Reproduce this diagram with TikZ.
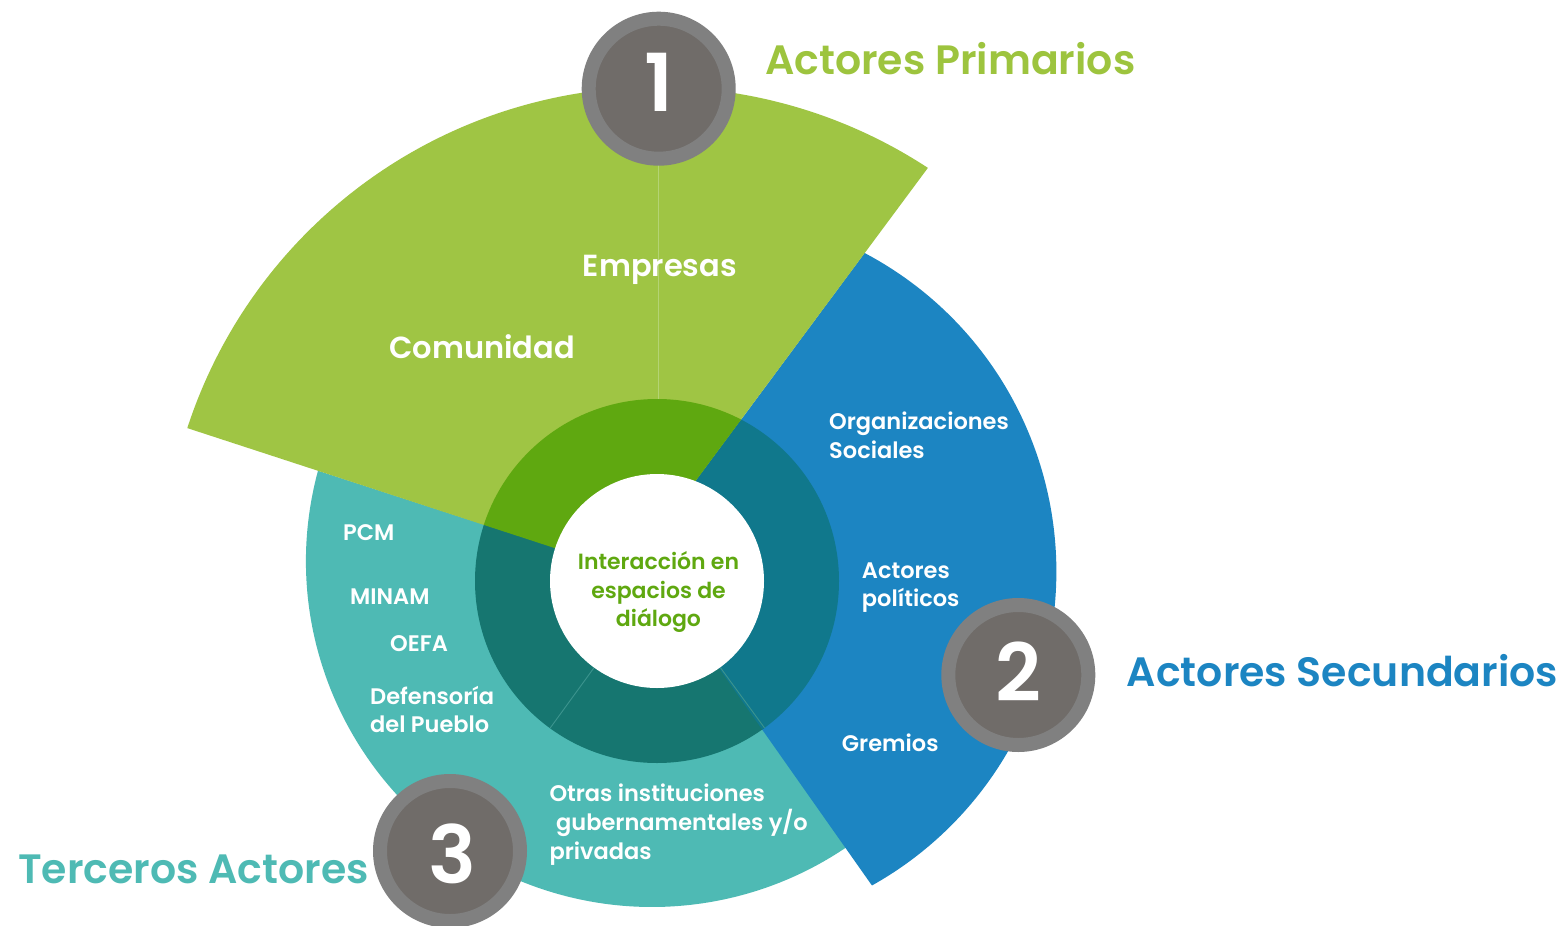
\documentclass[tikz,border=0pt]{standalone}
\usepackage{fontspec}
\setmainfont{Poppins}[BoldFont={Poppins SemiBold}]
\definecolor{gOut}{HTML}{9FC544}
\definecolor{gRing}{HTML}{5FA810}
\definecolor{gLine}{HTML}{B4D474}
\definecolor{bOut}{HTML}{1C85C2}
\definecolor{bRing}{HTML}{10788C}
\definecolor{tOut}{HTML}{4EBAB4}
\definecolor{tRing}{HTML}{167670}
\definecolor{tLine}{HTML}{3C948E}
\definecolor{cOuter}{HTML}{808080}
\definecolor{cInner}{HTML}{706C69}
\definecolor{gHead}{HTML}{9DC43E}
\newcommand\tealwedge{(658,581) -- (318,470.7) arc[start angle=195.13, end angle=54.96, radius=346] -- cycle}
\newcommand\bluewedge{(640,556) -- (864.6,253) arc[start angle=-62.13, end angle=60.8, radius=360] -- cycle}
\newcommand\greenwedge{(628,572) -- (187.3,428.1) arc[start angle=198.03, end angle=303.25, radius=494] -- cycle}
\begin{document}
\begin{tikzpicture}[x=1pt,y=-1pt,
  lbl/.style={text=white, anchor=base west, inner sep=0pt, font=\fontsize{22.5}{26}\selectfont\bfseries},
  biglbl/.style={text=white, anchor=base west, inner sep=0pt, font=\fontsize{30.5}{36}\selectfont\bfseries},
  head/.style={anchor=base west, inner sep=0pt, font=\fontsize{41}{48}\selectfont\bfseries},
  ctrtext/.style={text=gRing, anchor=base, inner sep=0pt, font=\fontsize{22}{26}\selectfont\bfseries},
  numc/.style={circle, fill=cInner, draw=cOuter, line width=14pt, minimum size=140pt, inner sep=0pt},
  numtext/.style={text=white, inner sep=0pt, font=\fontsize{80}{80}\selectfont\bfseries},
  faint/.style={line width=0.9pt}]
\useasboundingbox (0,0) rectangle (1564,926);
\fill[white] (0,0) rectangle (1564,926);
% outer wedges
\fill[tOut] \tealwedge;
\fill[bOut] \bluewedge;
\fill[gOut] \greenwedge;
\draw[gLine, faint] (658,165) -- (658,400);
% ring segments
\begin{scope}\clip \tealwedge; \fill[tRing] (657,581) circle (182); \end{scope}
\begin{scope}\clip \bluewedge; \fill[bRing] (657,581) circle (182); \end{scope}
\begin{scope}\clip \greenwedge; \fill[gRing] (657,581) circle (182); \end{scope}
\draw[tLine, faint] ([shift={(126:107)}]657,581) -- ([shift={(126:182)}]657,581);
\draw[tLine, faint] ([shift={(53.8:107)}]657,581) -- ([shift={(53.8:182)}]657,581);
\fill[white] (657,581) circle (107);
% centre text
\node[ctrtext] (c1) at (658.5,569) {Interacción en};
\node[ctrtext] (c2) at (658.5,598.3) {espacios de};
\node[ctrtext] (c3) at (658.5,626.7) {diálogo};
% labels
\node[biglbl] (comun) at (389,358.3) {Comunidad};
\node[biglbl] (empr) at (582.7,276) {Empresas};
\node[lbl] (org1) at (829,429.3) {Organizaciones};
\node[lbl] (org2) at (829,458.3) {Sociales};
\node[lbl] (act1) at (861.7,578.3) {Actores};
\node[lbl] (act2) at (861.7,606.7) {políticos};
\node[lbl] (grem) at (841.7,751.7) {Gremios};
\node[lbl] (otr1) at (549.3,801.7) {Otras instituciones};
\node[lbl] (otr2) at (556,830.7) {gubernamentales y/o};
\node[lbl] (otr3) at (549.3,859.3) {privadas};
\node[lbl] (pcm) at (343,540) {PCM};
\node[lbl] (minam) at (350,604) {MINAM};
\node[lbl] (oefa) at (390,651.7) {OEFA};
\node[lbl] (def1) at (370,704) {Defensoría};
\node[lbl] (def2) at (370,732.7) {del Pueblo};
% number circles
\node[numc] (n1) at (658.7,88.7) {};
\node[numtext] (t1) at (658.7,82) {1};
\node[numc] (n2) at (1018.3,675) {};
\node[numtext] (t2) at (1018.3,672) {2};
\node[numc] (n3) at (450,851) {};
\node[numtext] (t3) at (452,854) {3};
% headings
\node[head, text=gHead] (prim) at (765,74) {Actores Primarios};
\node[head, text=bOut] (sec) at (1126.7,686.7) {Actores Secundarios};
\node[head, text=tOut] (terc) at (18,883) {Terceros Actores};
\end{tikzpicture}
\end{document}
